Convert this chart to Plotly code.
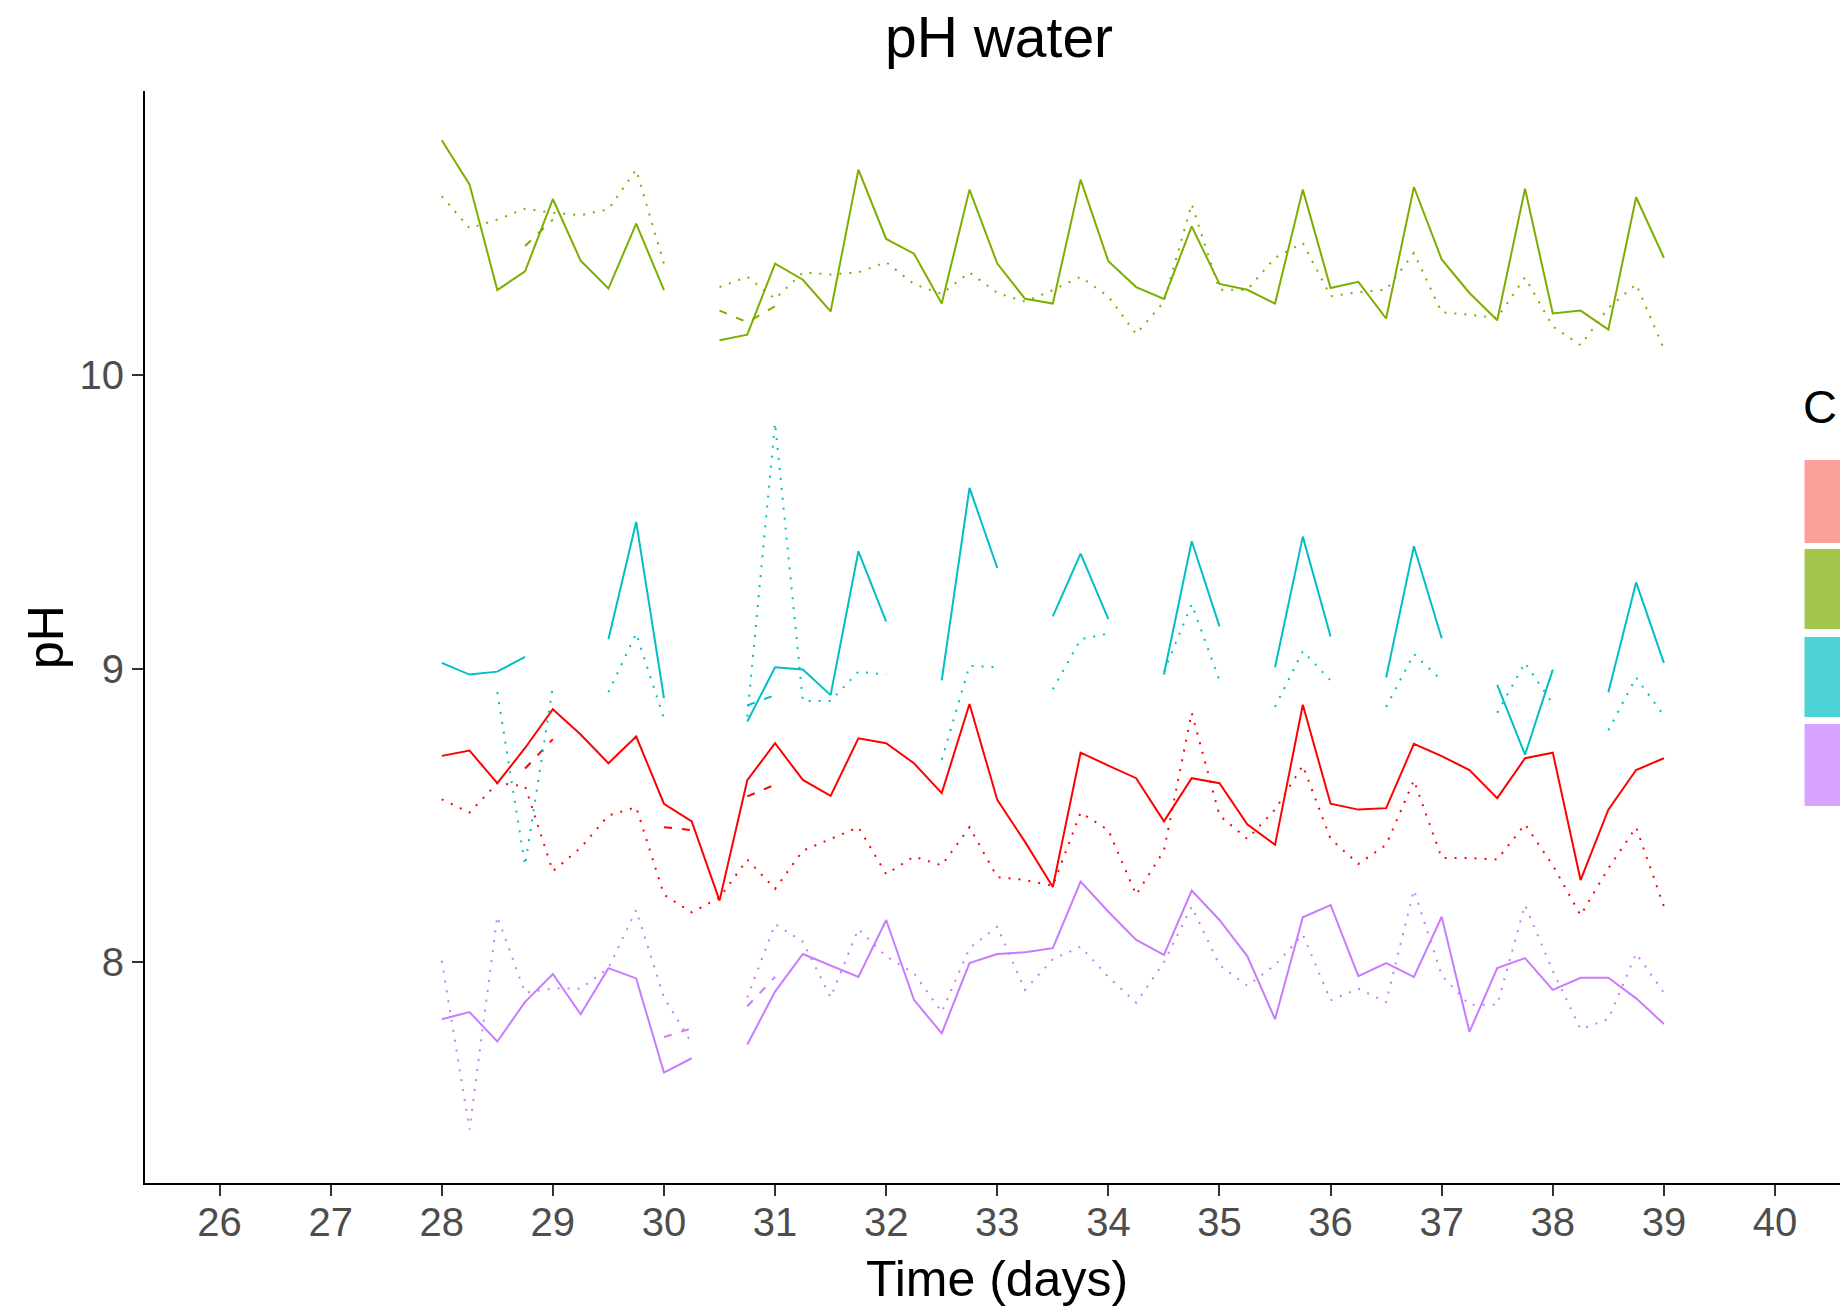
import plotly.graph_objects as go

# ---------------- data ----------------
days = [28, 28.25, 28.5, 28.75, 29, 29.25, 29.5, 29.75, 30, 30.25, 30.5, 30.75,
        31, 31.25, 31.5, 31.75, 32, 32.25, 32.5, 32.75, 33, 33.25, 33.5, 33.75,
        34, 34.25, 34.5, 34.75, 35, 35.25, 35.5, 35.75, 36, 36.25, 36.5, 36.75,
        37, 37.25, 37.5, 37.75, 38, 38.25, 38.5, 38.75, 39]

N = None

red_solid = [8.703, 8.721, 8.61, 8.73, 8.862, 8.776, 8.678, 8.769, 8.54, 8.48, 8.21, 8.62,
             8.746, 8.621, 8.567, 8.763, 8.746, 8.678, 8.576, 8.88, 8.553, 8.41, 8.256, 8.714,
             8.67, 8.627, 8.48, 8.627, 8.61, 8.47, 8.40, 8.877, 8.54, 8.52, 8.525, 8.744,
             8.702, 8.655, 8.559, 8.695, 8.714, 8.28, 8.52, 8.655, 8.695]
red_dashed = [N, N, N, 8.66, 8.76, N, N, N, 8.46, 8.45, N, 8.565,
              8.605, N, N, N, N, N, N, N, N, N, N, N,
              N, N, N, N, N, N, N, N, N, N, N, N,
              N, N, N, N, N, N, N, N, N]
red_dotted = [8.555, 8.51, 8.61, 8.60, 8.31, 8.39, 8.50, 8.528, 8.23, 8.17, 8.22, 8.35,
              8.25, 8.38, 8.42, 8.46, 8.30, 8.36, 8.33, 8.46, 8.29, 8.28, 8.26, 8.51,
              8.45, 8.23, 8.38, 8.85, 8.50, 8.42, 8.52, 8.67, 8.42, 8.335, 8.40, 8.62,
              8.355, 8.355, 8.35, 8.47, 8.33, 8.16, 8.32, 8.46, 8.19]

green_solid = [10.80, 10.65, 10.29, 10.354, 10.60, 10.39, 10.295, 10.516, 10.29, N, 10.119, 10.138,
               10.38, 10.325, 10.217, 10.70, 10.464, 10.414, 10.244, 10.632, 10.38, 10.26, 10.244, 10.666,
               10.388, 10.30, 10.26, 10.507, 10.311, 10.291, 10.244, 10.632, 10.297, 10.318, 10.193, 10.641,
               10.394, 10.28, 10.187, 10.635, 10.21, 10.22, 10.155, 10.606, 10.40]
green_dashed = [N, N, N, 10.44, 10.53, N, N, N, N, N, 10.22, 10.18,
                10.235, N, N, N, N, N, N, N, N, N, N, N,
                N, N, N, N, N, N, N, N, N, N, N, N,
                N, N, N, N, N, N, N, N, N]
green_dotted = [10.61, 10.50, 10.53, 10.567, 10.553, 10.545, 10.565, 10.70, 10.38, N, 10.30, 10.335,
                10.26, 10.35, 10.343, 10.35, 10.385, 10.31, 10.277, 10.35, 10.28, 10.25, 10.29, 10.335,
                10.268, 10.14, 10.25, 10.583, 10.291, 10.291, 10.40, 10.45, 10.269, 10.283, 10.291, 10.416,
                10.214, 10.206, 10.195, 10.333, 10.166, 10.102, 10.229, 10.31, 10.09]

cyan_solid = [9.02, 8.98, 8.99, 9.04, N, N, 9.10, 9.50, 8.90, N, N, 8.82,
              9.005, 8.997, 8.91, 9.40, 9.16, N, 8.96, 9.616, 9.343, N, 9.178, 9.392,
              9.169, N, 8.98, 9.434, 9.144, N, 9.005, 9.45, 9.11, N, 8.97, 9.417,
              9.104, N, 8.945, 8.707, 8.997, N, 8.92, 9.294, 9.02]
cyan_dashed = [N, N, N, N, N, N, N, N, N, N, N, 8.875,
               8.91, N, N, N, N, N, N, N, N, N, N, N,
               N, N, N, N, N, N, N, N, N, N, N, N,
               N, N, N, N, N, N, N, N, N]
cyan_dotted = [N, N, 8.92, 8.33, 8.94, N, 8.92, 9.12, 8.83, N, N, 8.837,
               9.837, 8.89, 8.89, 8.99, 8.98, N, 8.69, 9.01, 9.005, N, 8.93, 9.10,
               9.12, N, 8.99, 9.22, 8.96, N, 8.87, 9.06, 8.96, N, 8.87, 9.05,
               8.96, N, 8.85, 9.02, 8.88, N, 8.79, 8.97, 8.84]

purple_solid = [7.806, 7.83, 7.73, 7.865, 7.96, 7.823, 7.98, 7.945, 7.624, 7.673, N, 7.72,
                7.90, 8.028, 7.99, 7.95, 8.144, 7.872, 7.758, 7.997, 8.028, 8.034, 8.048, 8.275,
                8.172, 8.076, 8.025, 8.244, 8.144, 8.021, 7.806, 8.153, 8.195, 7.953, 7.997, 7.95,
                8.155, 7.763, 7.98, 8.014, 7.906, 7.947, 7.947, 7.877, 7.79]
purple_dashed = [N, N, N, N, N, N, N, N, 7.745, 7.775, N, 7.85,
                 7.95, N, N, N, N, N, N, N, N, N, N, N,
                 N, N, N, N, N, N, N, N, N, N, N, N,
                 N, N, N, N, N, N, N, N, N]
purple_dotted = [8.005, 7.43, 8.156, 7.896, 7.911, 7.91, 7.98, 8.178, 7.88, 7.724, N, 7.88,
                 8.13, 8.07, 7.88, 8.113, 8.02, 7.963, 7.83, 8.048, 8.121, 7.906, 8.01, 8.053,
                 7.95, 7.862, 8.0, 8.19, 7.99, 7.92, 7.99, 8.095, 7.87, 7.91, 7.864, 8.246,
                 7.955, 7.855, 7.855, 8.195, 7.97, 7.772, 7.806, 8.03, 7.896]

x_ticks = list(range(26, 41))
y_ticks = [8, 9, 10]
legend_title = "C"

# ---------------- style ----------------
W, H = 1840, 1306
L, R, T, B = 145, 0, 91, 123
FONT = "Liberation Sans, Arial, sans-serif"

line_colors = {"red": "#FF0000", "green": "#7CAE00", "cyan": "#00BFC4", "purple": "#C77CFF"}
key_colors = ["#FA9F99", "#A3C64D", "#4DD2D6", "#D8A3FF"]
dash_styles = {"solid": "solid", "dashed": "8px,10px", "dotted": "2px,8px"}

series = [
    ("red", "dotted", red_dotted), ("red", "dashed", red_dashed), ("red", "solid", red_solid),
    ("green", "dotted", green_dotted), ("green", "dashed", green_dashed), ("green", "solid", green_solid),
    ("cyan", "dotted", cyan_dotted), ("cyan", "dashed", cyan_dashed), ("cyan", "solid", cyan_solid),
    ("purple", "dotted", purple_dotted), ("purple", "dashed", purple_dashed), ("purple", "solid", purple_solid),
]

fig = go.Figure()
for color, lt, vals in series:
    fig.add_trace(go.Scatter(
        x=days, y=vals, mode="lines", connectgaps=False, showlegend=False,
        line=dict(color=line_colors[color], width=2, dash=dash_styles[lt]),
        hoverinfo="skip",
    ))

plot_w = W - L - R
plot_h = H - T - B


def px_x(xp):
    return (xp - L) / plot_w


def px_y(yp):
    return (H - B - yp) / plot_h


annotations = [
    dict(text="pH water", x=px_x(998.7), y=px_y(37), xref="paper", yref="paper",
         xanchor="center", yanchor="middle", showarrow=False,
         font=dict(family=FONT, size=57, color="black")),
    dict(text="Time (days)", x=px_x(997), y=px_y(1279), xref="paper", yref="paper",
         xanchor="center", yanchor="middle", showarrow=False,
         font=dict(family=FONT, size=50, color="black")),
    dict(text="pH", x=px_x(46), y=px_y(637), xref="paper", yref="paper",
         xanchor="center", yanchor="middle", textangle=-90, showarrow=False,
         font=dict(family=FONT, size=50, color="black")),
    dict(text=legend_title, x=px_x(1801), y=px_y(407), xref="paper", yref="paper",
         xanchor="left", yanchor="middle", showarrow=False,
         font=dict(family=FONT, size=47, color="black")),
]

key_rows = [(460, 543), (549, 629), (637, 717), (724, 806)]
shapes = []
for (y0, y1), c in zip(key_rows, key_colors):
    shapes.append(dict(type="rect", xref="paper", yref="paper",
                       x0=px_x(1804.5), x1=px_x(1900), y0=px_y(y1), y1=px_y(y0),
                       fillcolor=c, line=dict(width=0), layer="above"))

fig.update_layout(
    width=W, height=H,
    margin=dict(l=L, r=R, t=T, b=B, pad=0),
    paper_bgcolor="white", plot_bgcolor="white",
    font=dict(family=FONT, color="#4D4D4D"),
    annotations=annotations, shapes=shapes,
    xaxis=dict(range=[25.329, 40.585], tickvals=x_ticks, ticktext=[str(v) for v in x_ticks],
               showgrid=False, zeroline=False, showline=True, linecolor="black", linewidth=2,
               ticks="outside", ticklen=11, tickwidth=1.5, tickcolor="#333333",
               ticklabelstandoff=-8,
               tickfont=dict(family=FONT, size=40, color="#4D4D4D")),
    yaxis=dict(range=[7.248, 10.968], tickvals=y_ticks, ticktext=[str(v) for v in y_ticks],
               showgrid=False, zeroline=False, showline=True, linecolor="black", linewidth=2,
               ticks="outside", ticklen=11, tickwidth=1.5, tickcolor="#333333",
               tickfont=dict(family=FONT, size=40, color="#4D4D4D")),
)

fig.write_html("out.html")
